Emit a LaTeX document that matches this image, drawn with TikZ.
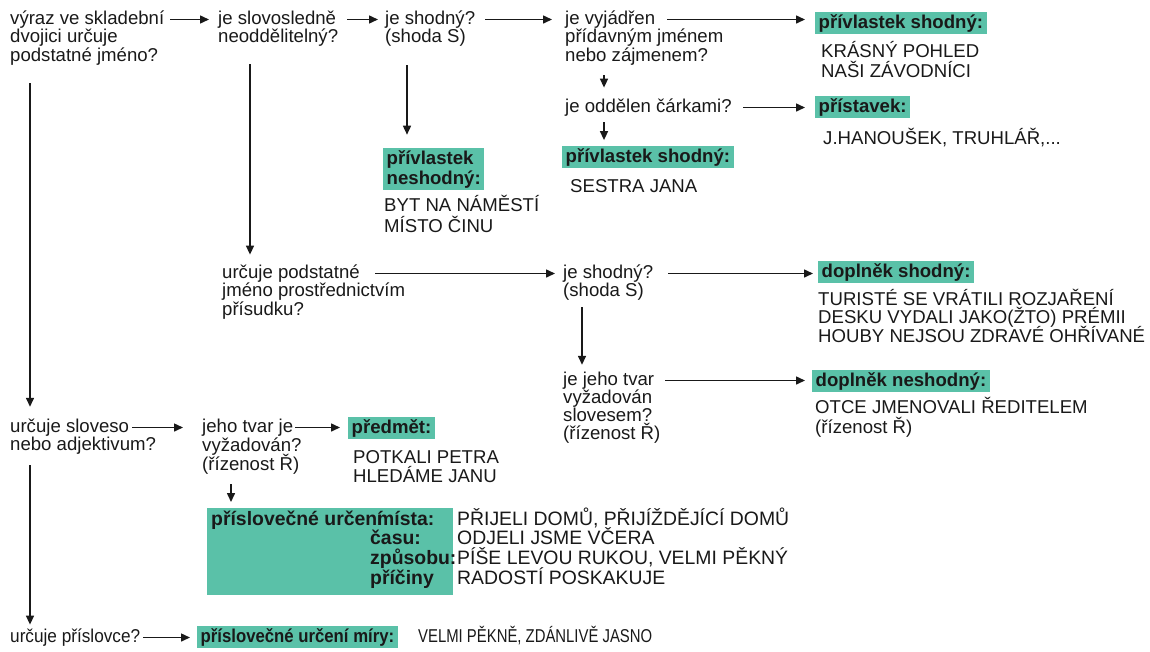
\documentclass[tikz,border=0pt]{standalone}
\usepackage{fontspec}
\usepackage{graphicx}
\setmainfont{Liberation Sans}
\usetikzlibrary{arrows.meta,calc}
\definecolor{tl}{RGB}{90,193,168}
\definecolor{ink}{RGB}{25,25,25}
\newcommand\fsz{\fontsize{18.6pt}{18.5pt}\selectfont}
\newcommand\fszb{\fontsize{19.4pt}{19.7pt}\selectfont}
\newcommand\stk[2][18.5pt]{\vtop{\baselineskip=#1\relax\lineskiplimit=-100pt\lineskip=0pt\halign{\vrule height 13.5pt depth 4pt width 0pt##\hfil\cr#2\crcr}}}
\begin{document}
\begin{tikzpicture}[x=1pt,y=-1pt,
 txt/.style={inner sep=0pt, anchor=base west, font=\fsz, text=ink},
 bl/.style={txt, font=\fszb\bfseries},
 lab/.style={fill=tl, inner xsep=3.5pt, inner ysep=2.2pt, anchor=base west, font=\fsz\bfseries, text=ink, text height=13.5pt, text depth=4pt},
 lab2/.style={fill=tl, inner xsep=3.5pt, inner ysep=2.2pt, anchor=base west, font=\fsz\bfseries, text=ink},
 arr/.style={line width=1.5pt, draw=ink, -{Triangle[length=9pt,width=8pt]}}]
\useasboundingbox (0,0) rectangle (1150,651);

% questions
\node[txt] (q1) at (10,24) {\stk{výraz ve skladební\cr dvojici určuje\cr podstatné jméno?}};
\node[txt] (q2) at (218,24) {\stk{je slovosledně\cr neoddělitelný?}};
\node[txt] (q3) at (385,24) {\stk{je shodný?\cr (shoda S)}};
\node[txt] (q4) at (565,24) {\stk{je vyjádřen\cr přídavným jménem\cr nebo zájmenem?}};
\node[txt] (q5) at (565,112) {\stk{je oddělen čárkami?}};
\node[txt] (q6) at (222,278) {\stk{určuje podstatné\cr jméno prostřednictvím\cr přísudku?}};
\node[txt] (q7) at (563,278) {\stk{je shodný?\cr (shoda S)}};
\node[txt] (q8) at (563,385) {\stk[18pt]{je jeho tvar\cr vyžadován\cr slovesem?\cr (řízenost Ř)}};
\node[txt] (q9) at (10,432) {\stk{určuje sloveso\cr nebo adjektivum?}};
\node[txt] (q10) at (202,432) {\stk[19pt]{jeho tvar je\cr vyžadován?\cr (řízenost Ř)}};
\node[txt] (q11) at (10,642) {\scalebox{0.925}[1]{\stk{určuje příslovce?}}};

% labels
\node[lab] (l1) at (815,28) {přívlastek shodný:};
\node[txt] (e1) at (821,57) {\stk[20pt]{KRÁSNÝ POHLED\cr NAŠI ZÁVODNÍCI}};
\node[lab] (l2) at (815,112) {přístavek:};
\node[txt] (e2) at (823,144) {\stk{J.HANOUŠEK, TRUHLÁŘ,...}};
\node[lab] (l3) at (562,162) {přívlastek shodný:};
\node[txt] (e3) at (570,192) {\stk{SESTRA JANA}};
\node[lab2] (l4) at (383,164) {\stk[20pt]{přívlastek\cr neshodný:}};
\node[txt] (e4) at (384,211) {\stk[21pt]{BYT NA NÁMĚSTÍ\cr MÍSTO ČINU}};
\node[lab] (l5) at (818,277) {doplněk shodný:};
\node[txt] (e5) at (818,305) {\stk{TURISTÉ SE VRÁTILI ROZJAŘENÍ\cr DESKU VYDALI JAKO(ŽTO) PRÉMII\cr HOUBY NEJSOU ZDRAVÉ OHŘÍVANÉ}};
\node[lab] (l6) at (812,386) {doplněk neshodný:};
\node[txt] (e6) at (815,413) {\stk[20pt]{OTCE JMENOVALI ŘEDITELEM\cr (řízenost Ř)}};
\node[lab] (l7) at (348,433) {předmět:};
\node[txt] (e7) at (353,463) {\stk[19.5pt]{POTKALI PETRA\cr HLEDÁME JANU}};

% adverbial box
\node[fill=tl, minimum width=246pt, minimum height=87pt, anchor=north west, inner sep=0pt] (advbox) at (207,508) {};
\node[bl] (a1) at (211,525) {příslovečné určení};
\node[bl] (a2) at (370,525) {\stk[19.7pt]{\hspace*{7pt}místa:\cr času:\cr způsobu:\cr příčiny}};
\node[txt, font=\fszb] (a3) at (457,525) {\stk[19.7pt]{PŘIJELI DOMŮ, PŘIJÍŽDĚJÍCÍ DOMŮ\cr ODJELI JSME VČERA\cr PÍŠE LEVOU RUKOU, VELMI PĚKNÝ\cr RADOSTÍ POSKAKUJE}};

\node[lab] (l8) at (197,642) {\scalebox{0.9}[1]{příslovečné určení míry:}};
\node[txt] (e8) at (418,642) {\scalebox{0.8}[1]{\stk{VELMI PĚKNĚ, ZDÁNLIVĚ JASNO}}};

% horizontal connectors
\draw[arr] ($(q1.base west)+(160pt,4.5pt)$) -- ($(q2.base west)+(-9pt,4.5pt)$);
\draw[arr] ($(q2.base west)+(129pt,4.5pt)$) -- ($(q3.base west)+(-7pt,4.5pt)$);
\draw[arr] ($(q3.base west)+(100pt,4.5pt)$) -- ($(q4.base west)+(-13pt,4.5pt)$);
\draw[arr] ($(q4.base west)+(102pt,4.5pt)$) -- ($(q4.base west -| l1.west)+(-10pt,4.5pt)$);
\draw[arr] ($(q5.base west)+(178pt,4.5pt)$) -- ($(q5.base west -| l2.west)+(-10pt,4.5pt)$);
\draw[arr] ($(q6.base west)+(153pt,4.5pt)$) -- ($(q7.base west)+(-8pt,4.5pt)$);
\draw[arr] ($(q7.base west)+(105pt,4.5pt)$) -- ($(q7.base west -| l5.west)+(-5pt,4.5pt)$);
\draw[arr] ($(q8.base west)+(102pt,4.5pt)$) -- ($(q8.base west -| l6.west)+(-7pt,4.5pt)$);
\draw[arr] ($(q9.base west)+(122pt,4.5pt)$) -- ($(q10.base west)+(-19pt,4.5pt)$);
\draw[arr] ($(q10.base west)+(93pt,4.5pt)$) -- ($(q10.base west -| l7.west)+(-8pt,4.5pt)$);
\draw[arr] ($(q11.base west)+(133pt,4.5pt)$) -- ($(q11.base west -| l8.west)+(-7pt,4.5pt)$);

% vertical connectors
\draw[arr] ($(q4.south west)+(39pt,-10pt)$) -- ($(q4.south west |- q5.north)+(39pt,10.5pt)$);
\draw[arr] ($(q5.south west)+(39pt,-6pt)$) -- ($(q5.south west |- l3.north)+(39pt,6pt)$);
\draw[arr] ($(q3.south west)+(22pt,-18.5pt)$) -- ($(q3.south west |- l4.north)+(22pt,13pt)$);
\draw[arr] ($(q2.south west)+(32pt,-17.5pt)$) -- ($(q2.south west |- q6.north)+(32pt,9.5pt)$);
\draw[arr] ($(q7.south west)+(19pt,-6.5pt)$) -- ($(q7.south west |- q8.north)+(19pt,6.5pt)$);
\draw[arr] ($(q1.south west)+(20pt,-18pt)$) -- ($(q1.south west |- q9.north)+(20pt,11.5pt)$);
\draw[arr] ($(q10.south west)+(29pt,-10pt)$) -- ($(q10.south west |- advbox.north)+(29pt,6pt)$);
\draw[arr] ($(q9.south west)+(20pt,-10.5pt)$) -- ($(q9.south west |- q11.north)+(20pt,3.5pt)$);
\end{tikzpicture}
\end{document}
